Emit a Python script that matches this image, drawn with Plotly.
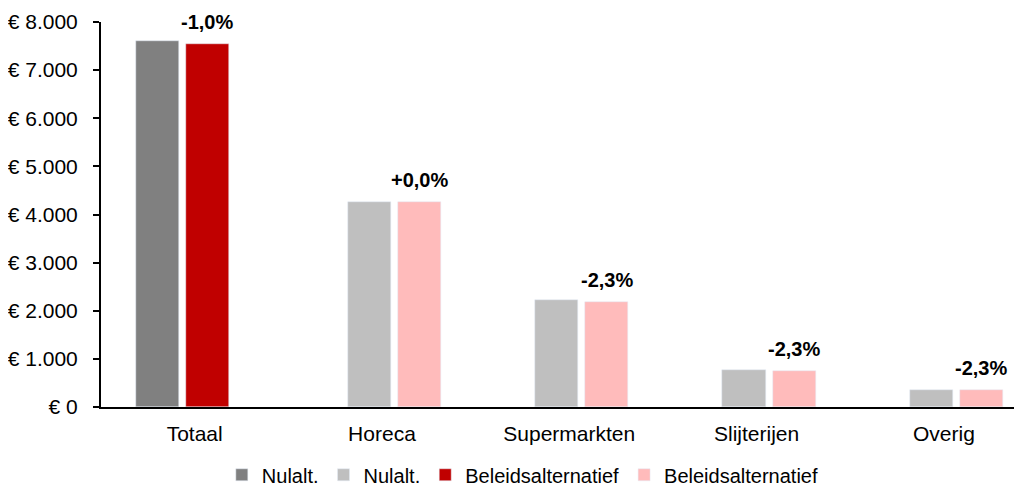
import plotly.graph_objects as go

# Data
categories = ["Totaal", "Horeca", "Supermarkten", "Slijterijen", "Overig"]
nulalt = [7610, 4260, 2230, 760, 355]
beleid = [7535, 4260, 2180, 743, 347]
pct_labels = ["-1,0%", "+0,0%", "-2,3%", "-2,3%", "-2,3%"]
y_ticks = [0, 1000, 2000, 3000, 4000, 5000, 6000, 7000, 8000]
y_ticktext = ["\u20ac " + f"{v:,}".replace(",", ".") for v in y_ticks]

FONT = "Liberation Sans, Arial, sans-serif"
BAR_W = 0.23

fig = go.Figure()

# Totaal gets the dark colours, the sectors the light ones
fig.add_trace(go.Bar(x=categories[:1], y=nulalt[:1], name="Nulalt.",
                     marker_color="#808080", width=BAR_W, offset=-0.315))
fig.add_trace(go.Bar(x=categories[1:], y=nulalt[1:], name="Nulalt.",
                     marker_color="#BFBFBF", width=BAR_W, offset=-0.182))
fig.add_trace(go.Bar(x=categories[:1], y=beleid[:1], name="Beleidsalternatief",
                     marker_color="#C00000", width=BAR_W, offset=-0.048))
fig.add_trace(go.Bar(x=categories[1:], y=beleid[1:], name="Beleidsalternatief",
                     marker_color="#FFBBBB", width=BAR_W, offset=0.085))

# percentage labels above the Beleidsalternatief bars
for i, (v, lab) in enumerate(zip(beleid, pct_labels)):
    off = -0.048 if i == 0 else 0.085
    fig.add_annotation(x=i + off + BAR_W / 2, y=v, text=f"<b>{lab}</b>",
                       showarrow=False, yanchor="bottom", yshift=9,
                       font=dict(family=FONT, size=20, color="black"))

# page body has an 8px margin, so the figure is a bit smaller than the window
fig.update_layout(
    width=1014, height=479,
    barmode="overlay",
    plot_bgcolor="white", paper_bgcolor="white",
    margin=dict(l=93, r=0, t=14, b=80, autoexpand=False),
    font=dict(family=FONT, size=21, color="black"),
    legend=dict(orientation="h", x=0.458, xanchor="center", y=-0.176,
                yanchor="middle", font=dict(size=20), itemwidth=30,
                traceorder="normal"),
    bargap=0,
)
fig.update_xaxes(type="category", range=[-0.5, 4.417], showline=True,
                 linecolor="black", linewidth=2, ticks="", showgrid=False,
                 ticklabelstandoff=7)
fig.update_yaxes(range=[0, 8000], tickvals=y_ticks, ticktext=y_ticktext,
                 showline=True, linecolor="black",
                 linewidth=2, ticks="outside", ticklen=6, tickwidth=2,
                 tickcolor="black", showgrid=False, zeroline=False,
                 ticklabelstandoff=11)

fig.write_html("out.html")
